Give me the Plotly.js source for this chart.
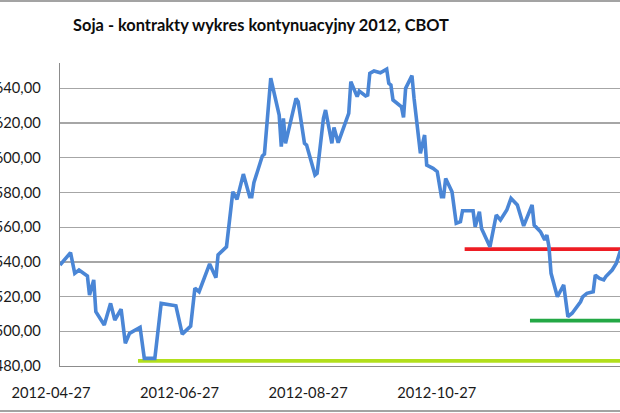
<!DOCTYPE html>
<html>
<head>
<meta charset="utf-8">
<script src="https://cdn.plot.ly/plotly-3.0.1.min.js"></script>
<style>
  html, body { margin: 0; padding: 0; background: #ffffff; overflow: hidden; }
  #wrap { position: relative; width: 620px; height: 413px; overflow: hidden; }
  #chart { position: absolute; left: -30px; top: 0; width: 700px; height: 413px; }
  .frame { position: absolute; left: 0; width: 620px; height: 2px; background: #a3a3a3; }
</style>
</head>
<body>
<div id="wrap">
  <div id="chart"></div>
  <div class="frame" style="top:0px;"></div>
  <div class="frame" style="top:410px;"></div>
</div>
<script>
// Price series (continuous soybean contract, CBOT)
const dates = [
  '2012-04-27','2012-05-02','2012-05-04','2012-05-06','2012-05-10','2012-05-11','2012-05-13','2012-05-14',
  '2012-05-18','2012-05-21','2012-05-23','2012-05-26','2012-05-28','2012-05-30','2012-06-04','2012-06-06',
  '2012-06-11','2012-06-14','2012-06-21','2012-06-24','2012-06-28','2012-06-30','2012-07-02','2012-07-07',
  '2012-07-10','2012-07-11','2012-07-15','2012-07-18','2012-07-20','2012-07-23','2012-07-26','2012-07-27',
  '2012-07-28','2012-08-01','2012-08-02','2012-08-05','2012-08-09','2012-08-10','2012-08-11','2012-08-12',
  '2012-08-17','2012-08-18','2012-08-21','2012-08-22','2012-08-26','2012-08-27','2012-08-30','2012-08-31',
  '2012-09-03','2012-09-04','2012-09-06','2012-09-11','2012-09-12','2012-09-15','2012-09-16','2012-09-19',
  '2012-09-20','2012-09-21','2012-09-23','2012-09-26','2012-09-29','2012-09-30','2012-10-01','2012-10-02',
  '2012-10-06','2012-10-07','2012-10-08','2012-10-11','2012-10-12','2012-10-15','2012-10-17','2012-10-18',
  '2012-10-21','2012-10-23','2012-10-25','2012-10-26','2012-10-27','2012-10-30','2012-11-01','2012-11-03',
  '2012-11-04','2012-11-09','2012-11-10','2012-11-12','2012-11-13','2012-11-17','2012-11-20','2012-11-22',
  '2012-11-25','2012-11-27','2012-11-30','2012-12-03','2012-12-07','2012-12-08','2012-12-11','2012-12-13',
  '2012-12-14','2012-12-15','2012-12-16','2012-12-19','2012-12-22','2012-12-24','2012-12-26','2012-12-30',
  '2012-12-31','2013-01-02','2013-01-05','2013-01-06','2013-01-08','2013-01-10','2013-01-11','2013-01-14',
  '2013-01-16','2013-01-18'
];
const prices = [
  538.2,545.3,533.4,535.3,531.9,520.9,529.6,511.3,
  503.6,516.1,506.5,512.7,493.1,498.8,502.3,484.4,
  484.4,516.1,514.7,498.4,503.0,524.8,522.8,538.8,
  530.9,544.0,548.7,580.4,576.0,590.6,577.5,577.5,
  585.6,601.0,602.1,645.8,624.6,606.4,622.7,608.3,
  634.2,632.3,608.3,607.3,590.0,591.0,622.7,627.5,
  608.3,617.5,608.7,625.6,643.8,635.2,638.4,635.6,
  636.1,648.6,650.0,649.0,651.1,642.9,641.9,633.3,
  629.4,623.3,640.0,647.3,634.2,602.6,613.1,595.8,
  593.9,592.0,577.5,577.5,588.1,580.4,562.2,563.1,
  569.5,569.5,560.3,568.9,559.3,548.7,567.0,564.1,
  569.9,576.6,572.8,560.7,572.8,561.2,557.4,552.6,
  555.5,548.7,533.4,519.9,526.7,508.4,510.4,517.0,
  519.9,521.9,522.8,532.4,530.5,529.6,531.5,535.3,
  539.2,546.8
];

// Horizontal support / resistance levels
const levelValues = [547.3, 506.1, 482.9];
const levelStarts = ['2012-11-05', '2012-12-06', '2012-06-03'];
const levelEnd = '2013-02-05';
const levelColors = ['#ee1d24', '#23a845', '#b2df1c'];

const tickDates = ['2012-04-27', '2012-06-27', '2012-08-27', '2012-10-27'];
const yTicks = [480, 500, 520, 540, 560, 580, 600, 620, 640];

const traces = [];
levelValues.forEach((v, i) => {
  traces.push({
    type: 'scatter', mode: 'lines',
    x: [levelStarts[i], levelEnd], y: [v, v],
    line: { color: levelColors[i], width: 3.8 },
    hoverinfo: 'skip'
  });
});
traces.push({
  type: 'scatter', mode: 'lines',
  x: dates, y: prices,
  line: { color: '#4a86d6', width: 3.6 },
  hoverinfo: 'skip'
});

const layout = {
  width: 700, height: 413,
  margin: { l: 90, r: 21.5, t: 63, b: 47, pad: 0 },
  paper_bgcolor: '#ffffff', plot_bgcolor: '#ffffff',
  showlegend: false,
  separators: ', ',
  font: { family: 'Lato, "DejaVu Sans", sans-serif', size: 14.7, color: '#1a1a1a' },
  title: {
    text: 'Soja - kontrakty wykres kontynuacyjny 2012, CBOT',
    font: { family: 'Lato, sans-serif', size: 16.4, color: '#0d0d0d', weight: 'bold' },
    xref: 'container', yref: 'container',
    x: 291 / 700, xanchor: 'center',
    y: 1 - 25 / 413, yanchor: 'middle'
  },
  xaxis: {
    type: 'date',
    range: ['2012-04-27', '2013-01-31'],
    tickvals: tickDates, ticktext: tickDates,
    ticks: '', showgrid: false, zeroline: false,
    showline: true, linecolor: '#8c8c8c', linewidth: 1.3,
    ticklabelshift: -9, ticklabelstandoff: 13,
    tickfont: { size: 14.7, color: '#1a1a1a' }
  },
  yaxis: {
    range: [480, 654.6],
    tickvals: yTicks, tickformat: '.2f',
    ticks: '', showgrid: true, gridcolor: '#a6a6a6', gridwidth: 1.3,
    zeroline: false,
    showline: true, linecolor: '#8c8c8c', linewidth: 1.3,
    ticklabelstandoff: 15,
    tickfont: { size: 14.7, color: '#1a1a1a' }
  }
};

Plotly.newPlot('chart', traces, layout, { staticPlot: true, displayModeBar: false });
</script>
</body>
</html>
